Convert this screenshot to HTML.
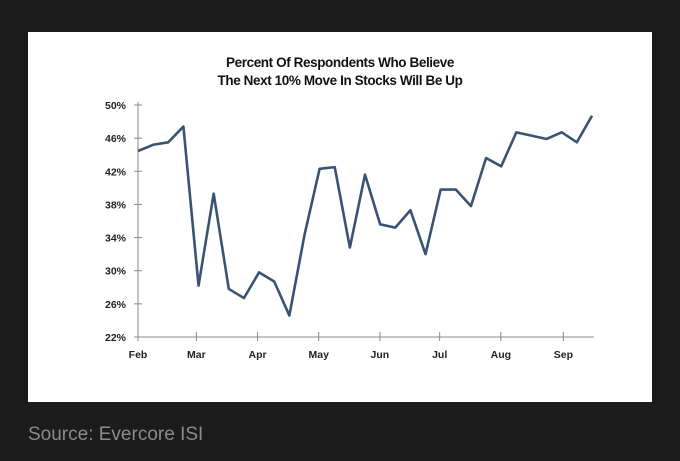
<!DOCTYPE html>
<html><head><meta charset="utf-8"><style>
body{margin:0;width:680px;height:461px;background:#1b1b1b;overflow:hidden;font-family:"Liberation Sans",Arial,sans-serif}
#card{position:absolute;left:28px;top:32px;width:624px;height:370px;background:#fff}
#src{position:absolute;left:28px;top:424px;color:#8a8a8a;font-size:19px}
</style></head><body>
<div id="card"></div>
<svg id="chart" width="680" height="461" style="position:absolute;left:0;top:0"></svg>
<div id="src">Source: Evercore ISI</div>
<script>
const values=[44.45,45.2,45.5,47.4,28.2,39.3,27.8,26.7,29.8,28.7,24.6,34.3,42.3,42.5,32.8,41.6,35.6,35.2,37.3,32.0,39.8,39.8,37.8,43.6,42.6,46.7,46.3,45.9,46.7,45.5,48.7];
const yTicks=[22,26,30,34,38,42,46,50];
const monthLabels=["Feb","Mar","Apr","May","Jun","Jul","Aug","Sep"];
const monthPos=[0,4.2,8.6,13,17.4,21.7,26.1,30.6];
const NS="http://www.w3.org/2000/svg";
const svg=document.getElementById('chart');
const x0=138,x1=592,y0=337,y1=105;
const xs=i=>x0+(x1-x0)*i/30;
const monthX=m=>x0+(562-x0)*m/30.5;
const ys=v=>y0-(v-22)/(50-22)*(y0-y1);
function mk(t,a){const e=document.createElementNS(NS,t);for(const k in a)e.setAttribute(k,a[k]);svg.appendChild(e);return e;}
let t=mk('text',{x:340,y:67,'text-anchor':'middle','font-size':13.5,'letter-spacing':-0.4,'font-weight':'bold',fill:'#111'});t.textContent='Percent Of Respondents Who Believe';


t=mk('text',{x:340,y:85,'text-anchor':'middle','font-size':13.5,'letter-spacing':-0.4,'font-weight':'bold',fill:'#111'});t.textContent='The Next 10% Move In Stocks Will Be Up';


let a=mk('line',{x1:x0,y1:y1-3,x2:x0,y2:y0,stroke:'#888','stroke-width':1});


a=mk('line',{x1:x0,y1:y0,x2:594,y2:y0,stroke:'#888','stroke-width':1});


yTicks.forEach(v=>{
 const y=ys(v);
 const l=mk('line',{x1:x0-4,y1:y,x2:x0+4,y2:y,stroke:'#888'});
 
 
 const tx=mk('text',{x:126,y:y+4,'text-anchor':'end','font-size':10.5,'font-weight':'bold',fill:'#222'});
 tx.textContent=v+'%';
 
 
});
monthLabels.forEach((m,i)=>{
 const x=monthX(monthPos[i]);
 const l=mk('line',{x1:x,y1:y0-5,x2:x,y2:y0+4,stroke:'#888'});
 
 
 const tx=mk('text',{x:x,y:y0+21,'text-anchor':'middle','font-size':10.5,'font-weight':'bold',fill:'#222'});
 tx.textContent=m;
 
 
});
const p=mk('polyline',{points:values.map((v,i)=>xs(i)+','+ys(v)).join(' '),fill:'none',stroke:'#3b5373','stroke-width':2.6,'stroke-linejoin':'round'});


</script>
</body></html>
